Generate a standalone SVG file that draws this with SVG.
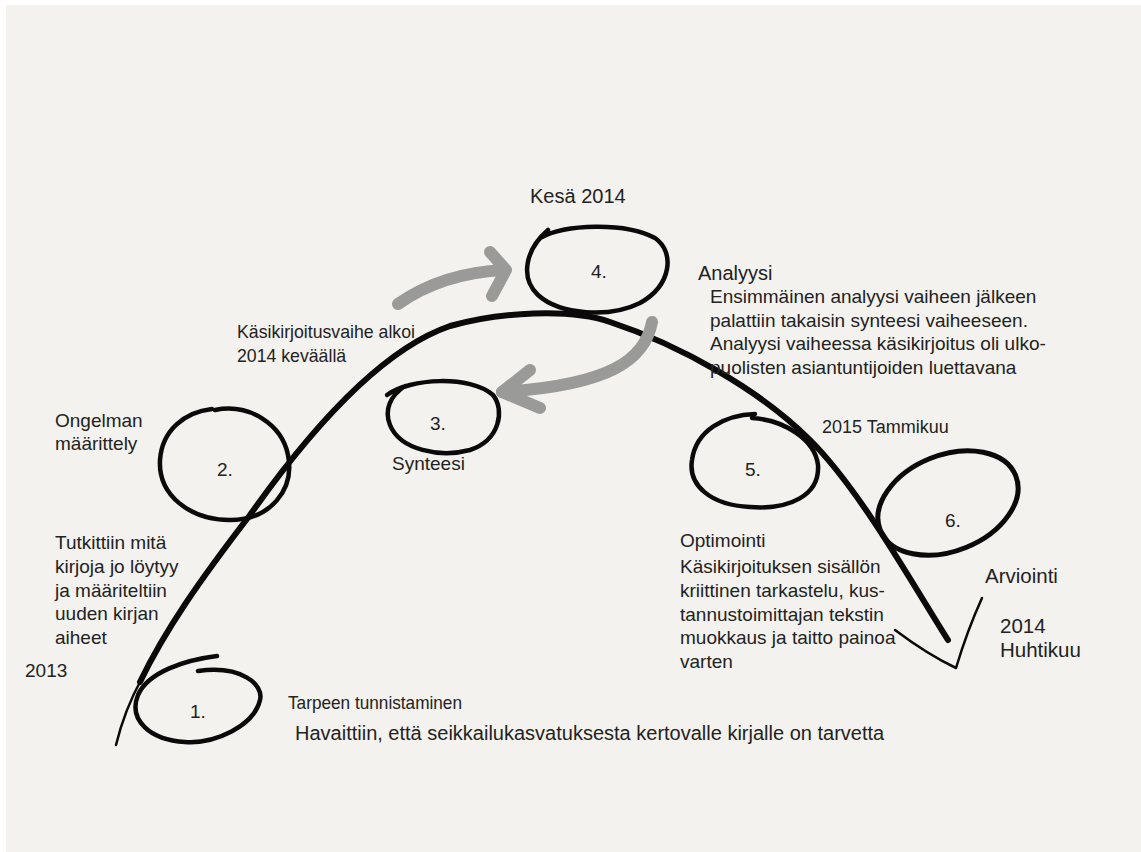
<svg xmlns="http://www.w3.org/2000/svg" width="1141" height="852" viewBox="0 0 1141 852">
<style>
.t{font-family:"Liberation Sans",Arial,sans-serif;font-size:19px;fill:#222}
.ink{fill:none;stroke:#0a0a0a;stroke-linecap:round;stroke-linejoin:round}
.grey{fill:none;stroke:#9a9a98;stroke-width:12;stroke-linecap:round;stroke-linejoin:round}
</style>
<rect width="1141" height="852" fill="#ffffff"/>
<rect x="6" y="5" width="1135" height="847" fill="#f4f2ee"/>
<g id="connectors">
<path class="ink" stroke-width="2.5" d="M116,745 C122,720 130,700 142,678"/>
<path class="ink" stroke-width="6" d="M140,682 C165,630 200,580 250,515 C310,430 380,350 450,326 C500,312 570,308 610,322 C680,345 760,390 810,440 C860,490 910,580 948,640"/>
<path class="ink" stroke-width="2.5" d="M895,630 C915,645 935,658 956,668 C962,648 972,620 982,598"/>
<path class="grey" d="M398,304 C425,285 460,272 505,270"/>
<path class="grey" d="M490,252 L506,270 L492,296"/>
<path class="grey" d="M652,322 C645,360 610,385 502,392"/>
<path class="grey" d="M530,370 L502,392 L540,408"/>
</g>
<g id="node1">
<path class="ink" stroke-width="4.5" d="M198,671 C242,665 264,685 260,700 C254,726 215,744 185,742 C150,740 128,720 138,695 C148,672 185,660 217,656"/>
<text class="t" x="190" y="718">1.</text>
<text class="t" x="288" y="709" textLength="174" lengthAdjust="spacingAndGlyphs">Tarpeen tunnistaminen</text>
<text class="t" x="295" y="740" style="font-size:20px">Havaittiin, että seikkailukasvatuksesta kertovalle kirjalle on tarvetta</text>
<text class="t" x="25" y="677">2013</text>
</g>
<g id="node2">
<path class="ink" stroke-width="4.5" d="M215,410 C250,403 282,425 288,455 C295,490 270,520 230,520 C190,520 158,495 160,460 C162,430 185,412 212,409"/>
<text class="t" x="217" y="476">2.</text>
<text class="t" x="55" y="427">Ongelman</text>
<text class="t" x="55" y="450">määrittely</text>
<text class="t" x="55" y="549">Tutkittiin mitä</text>
<text class="t" x="55" y="573">kirjoja jo löytyy</text>
<text class="t" x="55" y="597">ja määriteltiin</text>
<text class="t" x="55" y="620">uuden kirjan</text>
<text class="t" x="55" y="644">aiheet</text>
</g>
<g id="node3">
<path class="ink" stroke-width="4.5" d="M387,395 C410,378 470,375 493,395 C505,410 500,440 470,450 C440,458 400,450 390,425 C384,410 390,396 405,386"/>
<text class="t" x="430" y="430">3.</text>
<text class="t" x="392" y="470">Synteesi</text>
<text class="t" x="237" y="338" style="font-size:17.7px">Käsikirjoitusvaihe alkoi</text>
<text class="t" x="237" y="362" style="font-size:17.7px">2014 keväällä</text>
</g>
<g id="node4">
<path class="ink" stroke-width="4.5" d="M540,238 C565,224 625,222 655,238 C675,252 672,285 640,303 C610,318 560,315 538,295 C520,278 525,250 548,230"/>
<text class="t" x="591" y="278">4.</text>
<text class="t" x="530" y="203" style="font-size:20px">Kesä 2014</text>
<text class="t" x="698" y="280" style="font-size:20px">Analyysi</text>
<text class="t" x="710" y="303">Ensimmäinen analyysi vaiheen jälkeen</text>
<text class="t" x="710" y="327">palattiin takaisin synteesi vaiheeseen.</text>
<text class="t" x="710" y="350">Analyysi vaiheessa käsikirjoitus oli ulko-</text>
<text class="t" x="710" y="374">puolisten asiantuntijoiden luettavana</text>
</g>
<g id="node5">
<path class="ink" stroke-width="4.5" d="M752,418 C785,420 815,440 818,465 C820,495 790,510 750,507 C710,505 688,485 692,460 C696,430 725,415 755,414"/>
<text class="t" x="745" y="476">5.</text>
<text class="t" x="822" y="433" style="font-size:18px">2015 Tammikuu</text>
<text class="t" x="680" y="547">Optimointi</text>
<text class="t" x="680" y="573">Käsikirjoituksen sisällön</text>
<text class="t" x="680" y="597">kriittinen tarkastelu, kus-</text>
<text class="t" x="680" y="621">tannustoimittajan tekstin</text>
<text class="t" x="680" y="644">muokkaus ja taitto painoa</text>
<text class="t" x="680" y="668">varten</text>
</g>
<g id="node6">
<ellipse class="ink" stroke-width="5" cx="948" cy="503" rx="73" ry="48" transform="rotate(-22 948 503)"/>
<text class="t" x="945" y="527">6.</text>
<text class="t" x="985" y="583" style="font-size:20.5px">Arviointi</text>
<text class="t" x="1000" y="633" style="font-size:20.5px">2014</text>
<text class="t" x="1000" y="657" style="font-size:20.5px">Huhtikuu</text>
</g>
</svg>
